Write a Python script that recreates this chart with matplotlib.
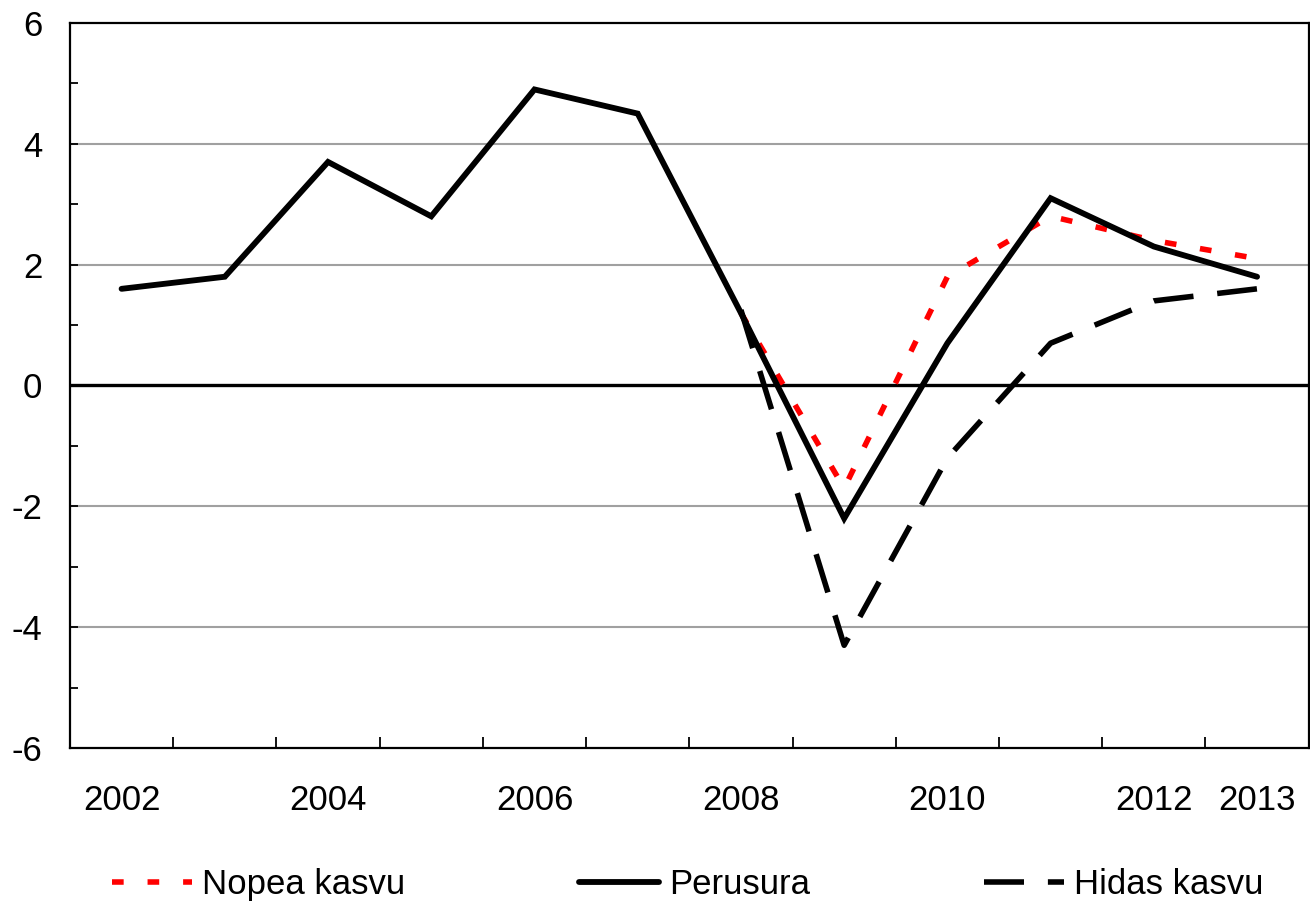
import matplotlib.pyplot as plt

plt.rcParams['font.family'] = ['Liberation Sans', 'DejaVu Sans']

years = [2002, 2003, 2004, 2005, 2006, 2007, 2008, 2009, 2010, 2011, 2012, 2013]
perusura = [1.6, 1.8, 3.7, 2.8, 4.9, 4.5, 1.2, -2.2, 0.7, 3.1, 2.3, 1.8]
nopea = [None, None, None, None, None, None, 1.2, -1.7, 1.8, 2.8, 2.4, 2.1]
hidas = [None, None, None, None, None, None, 1.25, -4.3, -1.2, 0.7, 1.4, 1.6]
labelled = ['2002', '', '2004', '', '2006', '', '2008', '', '2010', '', '2012', '2013']

x = list(range(len(years)))
xn = [i for i, v in zip(x, nopea) if v is not None]
yn = [v for v in nopea if v is not None]
xh = [i for i, v in zip(x, hidas) if v is not None]
yh = [v for v in hidas if v is not None]

fig = plt.figure(figsize=(13.1, 9.01), dpi=100)
ax = fig.add_axes([0.0534, 0.1698, 0.9456, 0.8047])

for g in [-4, -2, 2, 4]:
    ax.axhline(g, color='#a0a0a0', lw=1.5, zorder=1)
ax.axhline(0, color='black', lw=2.4, zorder=2)

ln_n, = ax.plot(xn, yn, color='#ff0000', lw=4.0, dashes=(2.1, 4.3), zorder=3)
ln_h, = ax.plot(xh, yh, color='black', lw=4.0, dashes=(7.2, 4.3), zorder=4)
ln_p, = ax.plot(x, perusura, color='black', lw=4.2, zorder=5,
                solid_capstyle='round', solid_joinstyle='miter')

ax.set_xlim(-0.5, 11.5)
ax.set_ylim(-6, 6)
ax.set_yticks(range(-6, 7, 2))
ax.set_yticks(range(-5, 6, 2), minor=True)
ax.set_yticklabels([str(v) for v in range(-6, 7, 2)])
ax.set_xticks(x)
ax.set_xticklabels(labelled)
ax.set_xticks([i - 0.5 for i in range(13)], minor=True)

ax.tick_params(axis='y', which='both', direction='in', length=6, width=1.3,
               labelsize=25, pad=20)
ax.tick_params(axis='x', which='major', length=0, labelsize=25, pad=26)
ax.tick_params(axis='x', which='minor', direction='in', length=8, width=1.3)

for s in ax.spines.values():
    s.set_linewidth(1.6)

fig.legend([ln_n, ln_p, ln_h], ['Nopea kasvu', 'Perusura', 'Hidas kasvu'],
           loc='center', bbox_to_anchor=(0.525, 0.018), ncol=3, frameon=False,
           fontsize=25, handlelength=2.3, handletextpad=0.3, columnspacing=5.0)

fig.savefig('out.png', dpi=100)
